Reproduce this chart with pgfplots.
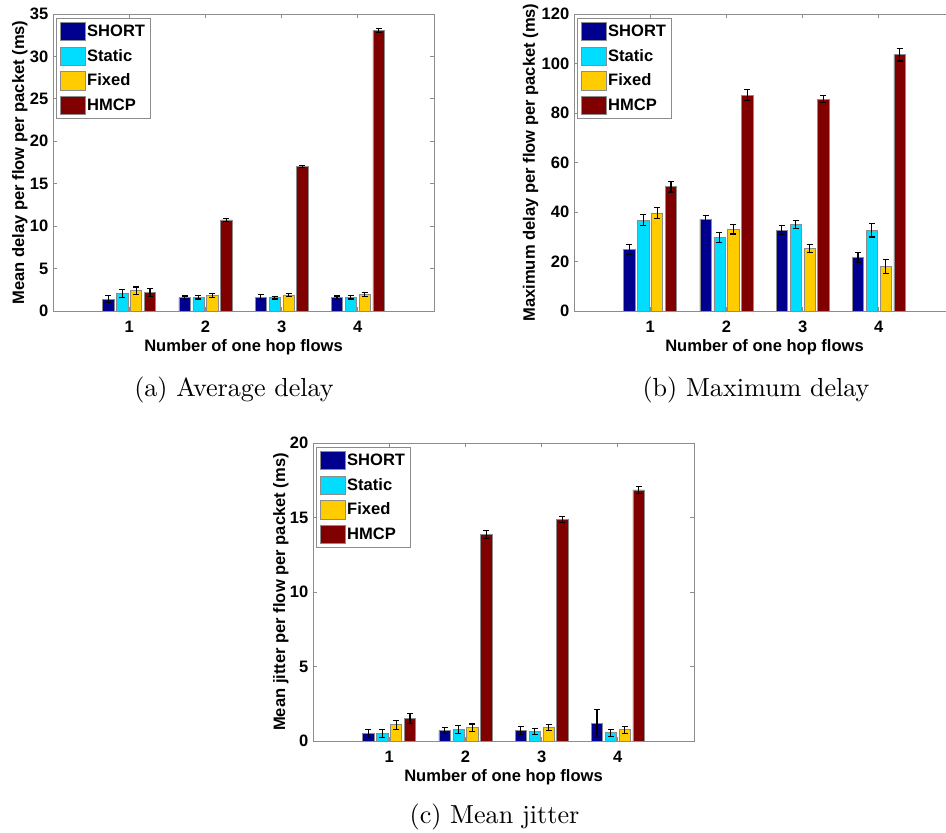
\documentclass[border=0pt]{standalone}
\usepackage{pgfplots}
\usepackage{pgfplotstable}
\pgfplotsset{compat=1.18}
\usepackage{fontspec}
\newfontfamily\arial{Liberation Sans}
\newfontfamily\capfont[Extension=.otf]{lmroman10-regular}
\definecolor{cShort}{RGB}{0,0,143}
\definecolor{cStatic}{RGB}{0,221,255}
\definecolor{cFixed}{RGB}{255,204,0}
\definecolor{cHMCP}{RGB}{128,0,0}
\definecolor{axgray}{RGB}{140,140,140}

\pgfplotstableread{
x s se st ste f fe h he
1 1.38 0.40 2.04 0.47 2.40 0.43 2.16 0.45
2 1.57 0.20 1.61 0.20 1.81 0.20 10.74 0.15
3 1.61 0.30 1.57 0.15 1.89 0.20 17.03 0.15
4 1.57 0.20 1.61 0.20 1.93 0.25 33.07 0.20
}\avgdelay
\pgfplotstableread{
x s se st ste f fe h he
1 24.9 2.0 36.7 2.2 39.6 2.2 50.3 2.2
2 37.0 1.5 29.7 2.0 33.1 2.0 87.2 2.2
3 32.7 1.8 35.0 1.6 25.2 1.6 85.6 1.5
4 21.7 2.0 32.7 2.8 18.0 2.7 103.6 2.6
}\maxdelay
\pgfplotstableread{
x s se st ste f fe h he
1 0.52 0.28 0.49 0.28 1.10 0.30 1.51 0.31
2 0.70 0.21 0.76 0.26 0.90 0.24 13.86 0.25
3 0.70 0.26 0.63 0.21 0.90 0.22 14.89 0.20
4 1.17 0.92 0.56 0.24 0.76 0.24 16.85 0.22
}\jitter

\newcommand{\ffont}{\arial\bfseries\fontsize{16.6}{18}\selectfont}

\pgfplotsset{
  errb/.style={error bars/.cd, y dir=both, y explicit,
    error bar style={black, line width=1.1bp},
    error mark options={black, rotate=90, mark size=3bp, line width=1.1bp}},
  mybars/.style={
    scale only axis, width=381bp, height=297bp,
    xmin=0, xmax=5, ymin=0,
    xtick={1,2,3,4},
    tick align=inside, major tick length=4bp,
    axis line style={axgray, line width=0.8bp},
    every tick/.style={axgray, line width=0.8bp},
    /pgf/number format/assume math mode=true,
    tick label style={font=\ffont},
    x tick label style={anchor=base, yshift=-21.7bp},
    y tick label style={anchor=east, inner sep=0pt, xshift=-4.5bp},
    xlabel={Number of one hop flows},
    every axis x label/.style={at={(axis description cs:0.5,-0.1347)}, anchor=base, font=\ffont},
    every axis y label/.style={rotate=90, anchor=base, font=\ffont},
    legend style={at={(axis description cs:0,1)}, anchor=north west,
      xshift=3bp, yshift=-4bp, draw=axgray, line width=0.8bp,
      inner xsep=4bp, inner ysep=3.5bp, row sep=5.6bp, font=\ffont,
      nodes={inner sep=1.5bp}},
    legend cell align=left,
    legend image code/.code={\draw[##1, draw=axgray, line width=0.6bp] (0bp,-9.2bp) rectangle (24.7bp,9.2bp);},
  },
  sS/.style={ybar, bar width=0.148, bar shift=0, fill=cShort, draw=axgray, line width=0.6bp},
  sT/.style={ybar, bar width=0.148, bar shift=0, fill=cStatic, draw=axgray, line width=0.6bp},
  sF/.style={ybar, bar width=0.148, bar shift=0, fill=cFixed, draw=axgray, line width=0.6bp},
  sH/.style={ybar, bar width=0.148, bar shift=0, fill=cHMCP, draw=axgray, line width=0.6bp},
}

\begin{document}
\begin{tikzpicture}
\useasboundingbox (0,0) rectangle (946bp,-833bp);
\clip (0,0) rectangle (946bp,-833bp);

\begin{axis}[mybars, at={(53bp,-311bp)}, anchor=south west,
  ymax=35, ytick={0,5,...,35},
  ylabel={Mean delay per flow per packet (ms)},
  ylabel style={at={(axis description cs:-0.0761,0.5)}}]
\addplot[sS, errb] table[x expr=\thisrow{x}-0.273, y=s, y error=se] {\avgdelay};
\addplot[sT, errb] table[x expr=\thisrow{x}-0.091, y=st, y error=ste] {\avgdelay};
\addplot[sF, errb] table[x expr=\thisrow{x}+0.091, y=f, y error=fe] {\avgdelay};
\addplot[sH, errb] table[x expr=\thisrow{x}+0.273, y=h, y error=he] {\avgdelay};
\legend{SHORT,Static,Fixed,HMCP}
\end{axis}

\begin{axis}[mybars, at={(574bp,-311bp)}, anchor=south west,
  ymax=120, ytick={0,20,...,120},
  ylabel={Maximum delay per flow per packet (ms)},
  ylabel style={at={(axis description cs:-0.1024,0.5)}}]
\addplot[sS, errb] table[x expr=\thisrow{x}-0.273, y=s, y error=se] {\maxdelay};
\addplot[sT, errb] table[x expr=\thisrow{x}-0.091, y=st, y error=ste] {\maxdelay};
\addplot[sF, errb] table[x expr=\thisrow{x}+0.091, y=f, y error=fe] {\maxdelay};
\addplot[sH, errb] table[x expr=\thisrow{x}+0.273, y=h, y error=he] {\maxdelay};
\legend{SHORT,Static,Fixed,HMCP}
\end{axis}

\begin{axis}[mybars, at={(313bp,-741bp)}, anchor=south west, height=298bp,
  ymax=20, ytick={0,5,...,20},
  ylabel={Mean jitter per flow per packet (ms)},
  ylabel style={at={(axis description cs:-0.0735,0.5)}}]
\addplot[sS, errb] table[x expr=\thisrow{x}-0.273, y=s, y error=se] {\jitter};
\addplot[sT, errb] table[x expr=\thisrow{x}-0.091, y=st, y error=ste] {\jitter};
\addplot[sF, errb] table[x expr=\thisrow{x}+0.091, y=f, y error=fe] {\jitter};
\addplot[sH, errb] table[x expr=\thisrow{x}+0.273, y=h, y error=he] {\jitter};
\legend{SHORT,Static,Fixed,HMCP}
\end{axis}

\node[anchor=base, font=\capfont\fontsize{26.2}{30}\selectfont] at (234bp,-396bp) {(a)\ Average delay};
\node[anchor=base, font=\capfont\fontsize{26.2}{30}\selectfont] at (756bp,-396bp) {(b)\ Maximum delay};
\node[anchor=base, font=\capfont\fontsize{26.2}{30}\selectfont] at (494.5bp,-823bp) {(c)\ Mean jitter};
\end{tikzpicture}
\end{document}
